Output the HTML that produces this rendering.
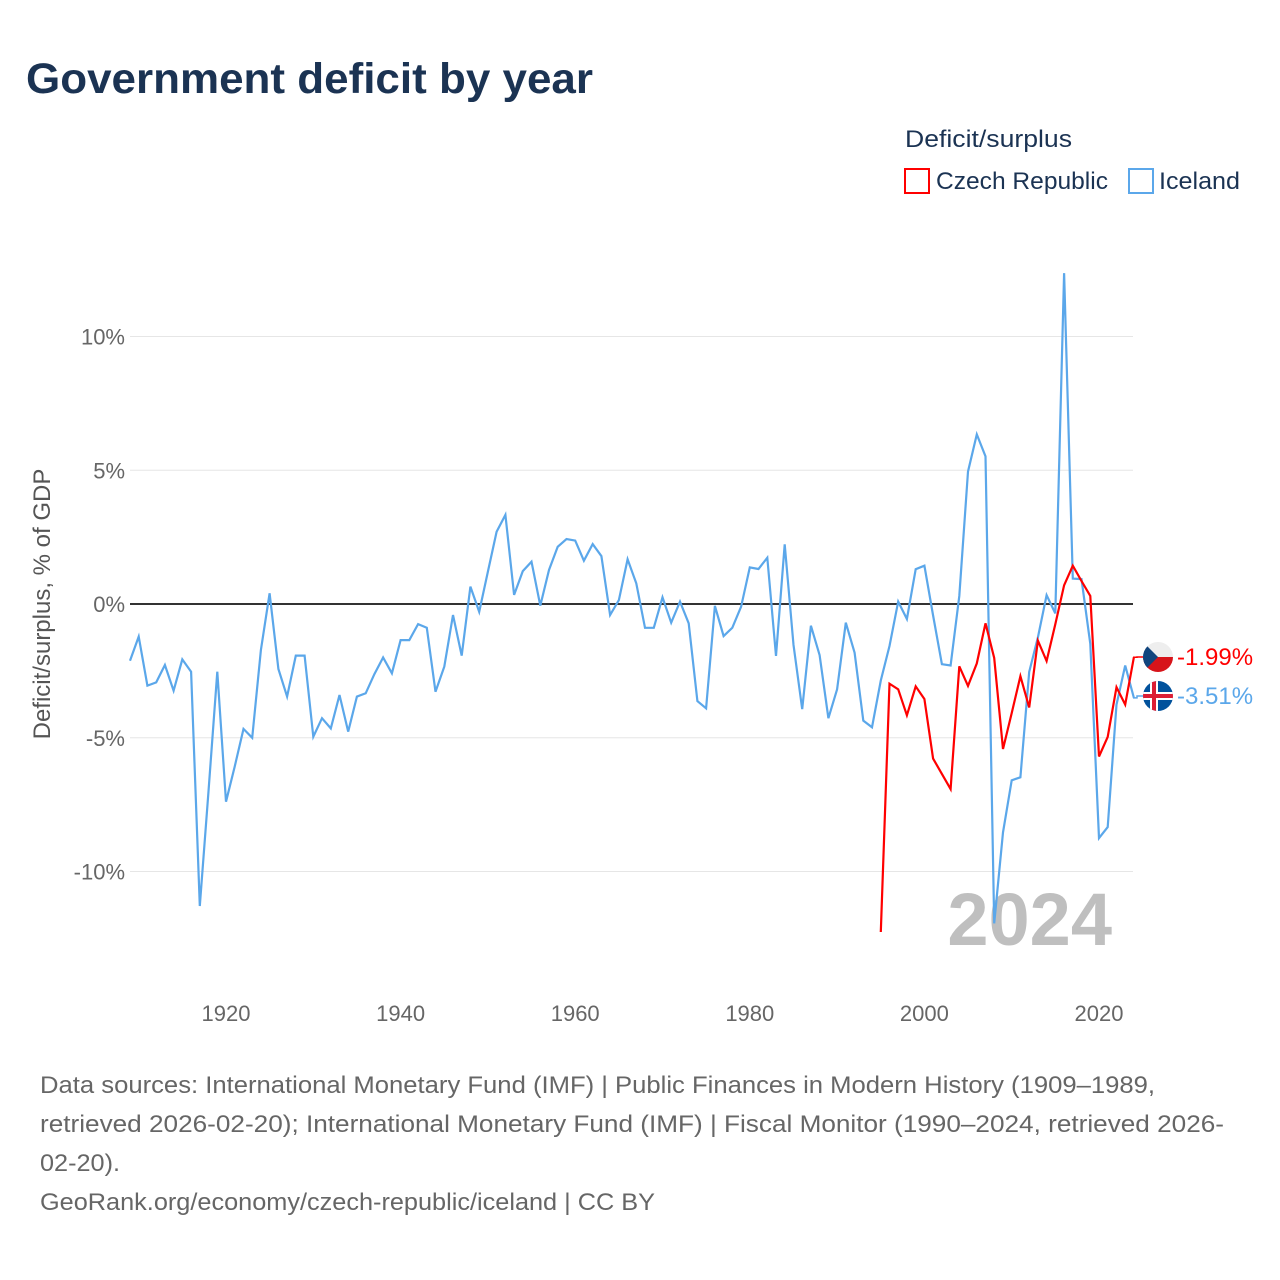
<!DOCTYPE html>
<html><head><meta charset="utf-8"><style>
html,body{margin:0;padding:0;background:#fff;}
svg{display:block;font-family:"Liberation Sans",sans-serif;}
</style></head><body>
<svg id="chart" width="1280" height="1280" viewBox="0 0 1280 1280">
<text x="26" y="93" font-size="43" font-weight="bold" fill="#1b3353" textLength="567" lengthAdjust="spacingAndGlyphs">Government deficit by year</text>
<text x="905" y="147" font-size="24" fill="#1b3353" textLength="167" lengthAdjust="spacingAndGlyphs">Deficit/surplus</text>
<g><rect x="905" y="169" width="24" height="24" fill="none" stroke="#ff0000" stroke-width="2"/><text x="936" y="189" font-size="24" fill="#1b3353" textLength="172" lengthAdjust="spacingAndGlyphs">Czech Republic</text></g>
<g><rect x="1129" y="169" width="24" height="24" fill="none" stroke="#5ba7ea" stroke-width="2"/><text x="1159" y="189" font-size="24" fill="#1b3353" textLength="81" lengthAdjust="spacingAndGlyphs">Iceland</text></g>
<text transform="translate(50,604) rotate(-90)" text-anchor="middle" font-size="24" fill="#555">Deficit/surplus, % of GDP</text>
<g id="grid"></g>
<g id="xticks"></g>
<text x="1112" y="945" text-anchor="end" font-size="74" font-weight="bold" fill="#bfbfbf">2024</text>
<g id="series"></g>
<g id="endlabels"></g>
<g font-size="24" fill="#666">
<text x="40" y="1093" textLength="1115" lengthAdjust="spacingAndGlyphs">Data sources: International Monetary Fund (IMF) | Public Finances in Modern History (1909–1989,</text>
<text x="40" y="1132" textLength="1184" lengthAdjust="spacingAndGlyphs">retrieved 2026-02-20); International Monetary Fund (IMF) | Fiscal Monitor (1990–2024, retrieved 2026-</text>
<text x="40" y="1171" textLength="80" lengthAdjust="spacingAndGlyphs">02-20).</text>
<text x="40" y="1210" textLength="615" lengthAdjust="spacingAndGlyphs">GeoRank.org/economy/czech-republic/iceland | CC BY</text>
</g>
</svg>
<script>
const icelandYears0 = 1909;
const icelandValues = [-2.12,-1.22,-3.05,-2.93,-2.28,-3.24,-2.07,-2.53,-11.29,-7.0,-2.53,-7.39,-6.08,-4.67,-5.0,-1.72,0.40,-2.43,-3.46,-1.93,-1.93,-4.96,-4.27,-4.65,-3.40,-4.77,-3.46,-3.34,-2.62,-2.0,-2.59,-1.35,-1.35,-0.75,-0.89,-3.28,-2.34,-0.41,-1.93,0.65,-0.29,1.21,2.70,3.33,0.34,1.23,1.58,-0.06,1.27,2.14,2.43,2.37,1.62,2.24,1.79,-0.41,0.15,1.67,0.77,-0.89,-0.89,0.25,-0.70,0.09,-0.72,-3.63,-3.90,-0.07,-1.20,-0.89,-0.1,1.37,1.31,1.73,-1.94,2.23,-1.53,-3.93,-0.81,-1.91,-4.27,-3.19,-0.70,-1.82,-4.36,-4.61,-2.86,-1.57,0.09,-0.56,1.30,1.43,-0.43,-2.25,-2.30,0.30,4.95,6.34,5.52,-11.94,-8.54,-6.59,-6.48,-2.54,-1.25,0.33,-0.35,12.37,0.95,0.93,-1.49,-8.75,-8.34,-3.76,-2.30,-3.51];
const czechYears0 = 1995;
const czechValues = [-12.26,-2.98,-3.19,-4.16,-3.08,-3.55,-5.78,-6.35,-6.92,-2.33,-3.06,-2.22,-0.72,-2.02,-5.42,-4.08,-2.70,-3.87,-1.37,-2.13,-0.76,0.70,1.43,0.86,0.30,-5.70,-4.97,-3.11,-3.76,-1.99];
const yTicks = [10,5,0,-5,-10];
const yTickLabels = ["10%","5%","0%","-5%","-10%"];
const xTicks = [1920,1940,1960,1980,2000,2020];

const NS="http://www.w3.org/2000/svg";
function xs(yr){return 226+(yr-1920)*(1099-226)/100;}
function ys(v){return 604-v*26.75;}
const X0=130,X1=1133;
function mk(tag,attrs,parent){const e=document.createElementNS(NS,tag);for(const k in attrs)e.setAttribute(k,attrs[k]);parent.appendChild(e);return e;}
const grid=document.getElementById('grid');
yTicks.forEach((t,i)=>{
  const l=mk('line',{x1:X0,x2:X1,y1:ys(t),y2:ys(t),stroke:t===0?'#333':'#e6e6e6','stroke-width':t===0?2:1},grid);
  
  
  const tx=mk('text',{x:125,y:ys(t)+8,'text-anchor':'end','font-size':22,fill:'#666'},grid);
  tx.textContent=yTickLabels[i];
  
  
});
const xt=document.getElementById('xticks');
xTicks.forEach(t=>{
  const tx=mk('text',{x:xs(t),y:1021,'text-anchor':'middle','font-size':22,fill:'#666'},xt);
  tx.textContent=t;
  
  
});
const ser=document.getElementById('series');
function line(y0,vals,color,name){
  const pts=vals.map((v,i)=>xs(y0+i).toFixed(1)+','+ys(v).toFixed(1)).join(' ');
  const p=mk('polyline',{points:pts,fill:'none',stroke:color,'stroke-width':2.2,'stroke-linejoin':'miter'},ser);
  
  
}
line(icelandYears0,icelandValues,'#5ba7ea','iceland-line');
line(czechYears0,czechValues,'#ff0000','czech-line');

const el=document.getElementById('endlabels');
const cz=czechValues[czechValues.length-1], ic=icelandValues[icelandValues.length-1];
const cy=657, iy=696, fx=1158;
const c1=mk('path',{d:`M${X1} ${ys(cz)} H1137 V${cy} H1143`,fill:'none',stroke:'#ff0000','stroke-width':1.5},el);


const c2=mk('path',{d:`M${X1} ${ys(ic)} H1137 V${iy} H1143`,fill:'none',stroke:'#5ba7ea','stroke-width':1.5},el);


const g1=mk('g',{},el);


mk('defs',{},g1).innerHTML='<clipPath id="cc1"><circle cx="'+fx+'" cy="'+cy+'" r="15"/></clipPath><clipPath id="cc2"><circle cx="'+fx+'" cy="'+iy+'" r="15"/></clipPath>';
const gc=mk('g',{'clip-path':'url(#cc1)'},g1);
mk('rect',{x:fx-15,y:cy-15,width:30,height:15,fill:'#eee'},gc);
mk('rect',{x:fx-15,y:cy,width:30,height:15,fill:'#d7141a'},gc);
mk('path',{d:`M${fx-15} ${cy-15} L${fx} ${cy} L${fx-15} ${cy+15} Z`,fill:'#11457e'},gc);
const g2=mk('g',{'clip-path':'url(#cc2)'},el);


mk('rect',{x:fx-15,y:iy-15,width:30,height:30,fill:'#02529c'},g2);
mk('rect',{x:fx-8,y:iy-15,width:8,height:30,fill:'#fff'},g2);
mk('rect',{x:fx-15,y:iy-4,width:30,height:8,fill:'#fff'},g2);
mk('rect',{x:fx-6,y:iy-15,width:4,height:30,fill:'#dc1e35'},g2);
mk('rect',{x:fx-15,y:iy-2,width:30,height:4,fill:'#dc1e35'},g2);
const t1=mk('text',{x:1177,y:cy+8,'font-size':24,fill:'#ff0000'},el);
t1.textContent=cz.toFixed(2)+'%';


const t2=mk('text',{x:1177,y:iy+8,'font-size':24,fill:'#5ba7ea'},el);
t2.textContent=ic.toFixed(2)+'%';


</script>
</body></html>
